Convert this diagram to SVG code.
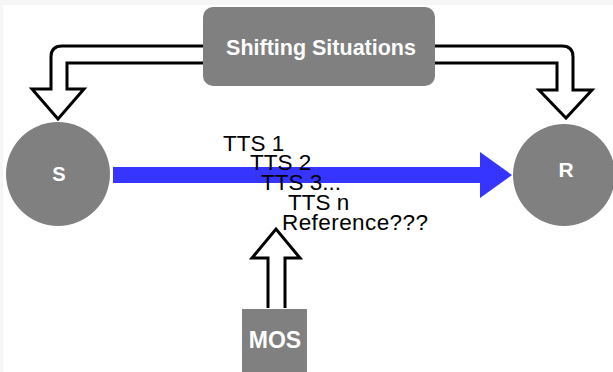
<svg xmlns="http://www.w3.org/2000/svg" width="613" height="372" viewBox="0 0 613 372">
  <style>
    .node { fill: #808080; }
    .label { font-family: "Liberation Sans", Arial, sans-serif; font-weight: bold; fill: #ffffff; text-anchor: middle; }
    .hollow { fill: #ffffff; stroke: #000000; stroke-width: 3; stroke-linejoin: miter; }
    .tts { font-family: "Liberation Sans", Arial, sans-serif; font-size: 22.5px; fill: #000000; }
  </style>

  <!-- page background with a faint frame on top and left -->
  <rect x="0" y="0" width="613" height="372" fill="#f6f6f6"/>
  <rect x="3" y="5" width="610" height="367" fill="#ffffff"/>

  <g id="connectors">
    <!-- hollow arrow: situations to S -->
    <path class="hollow" d="M203,46 H62 Q51,46 51,57 V89 H32 L58,119 L84,89 H67 V63 H203"/>
    <!-- hollow arrow: situations to R -->
    <path class="hollow" d="M435,46 H562 Q573,46 573,57 V90 H592 L566,118 L539,90 H557 V63 H435"/>
    <!-- hollow arrow: MOS up to the references -->
    <path class="hollow" d="M268,308 V258 H252 L276,229 L300,258 H285 V308"/>
    <!-- solid blue arrow S to R -->
    <polygon fill="#3535ff" points="113,167 480,167 480,152 512,175 480,198 480,183 113,183"/>
  </g>

  <g id="shifting-situations">
    <rect class="node" x="203" y="7" width="232" height="79" rx="10" ry="10"/>
    <text class="label" x="321" y="55" font-size="21.5">Shifting Situations</text>
  </g>

  <g id="node-s">
    <circle class="node" cx="58" cy="174" r="52"/>
    <text class="label" x="59" y="181" font-size="20">S</text>
  </g>

  <g id="node-r">
    <circle class="node" cx="564" cy="175" r="51"/>
    <text class="label" x="566" y="177" font-size="21">R</text>
  </g>

  <g id="mos">
    <rect class="node" x="242" y="309" width="65" height="70"/>
    <text class="label" x="275" y="348" font-size="23">MOS</text>
  </g>

  <g id="tts-labels">
    <text class="tts" x="223" y="151">TTS 1</text>
    <text class="tts" x="250" y="170">TTS 2</text>
    <text class="tts" x="261" y="190">TTS 3...</text>
    <text class="tts" x="288" y="210">TTS n</text>
    <text class="tts" x="282" y="230" textLength="146">Reference???</text>
  </g>
</svg>
